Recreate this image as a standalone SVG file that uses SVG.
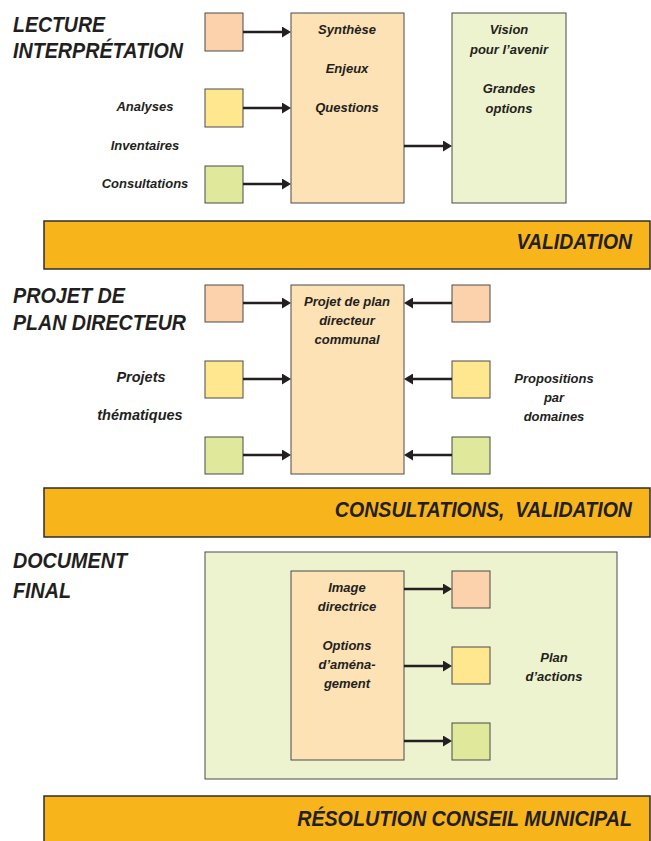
<svg xmlns="http://www.w3.org/2000/svg" width="651" height="841" viewBox="0 0 651 841">
<style>
text{font-family:"Liberation Sans",Arial,sans-serif;font-weight:bold;font-style:italic;fill:#231f20}
.h{font-size:22px}
.s{font-size:13px;text-anchor:middle}
.m{font-size:14.5px;text-anchor:middle}
.b{font-size:22px;text-anchor:end}
.box{stroke:#4a4a4a;stroke-width:1}
.peach{fill:#fcd2ac}.yel{fill:#fee78f}.grn{fill:#e0e89b}.cen{fill:#fde2b6}.lg{fill:#eef3cf}
.bar{fill:#f8b41b;stroke:#2e2e2e;stroke-width:1.5}
.arr{stroke:#231f20;stroke-width:2.5;fill:none;marker-end:url(#ah)}
</style>
<defs>
<marker id="ah" viewBox="0 0 9 11" markerWidth="9" markerHeight="11" markerUnits="userSpaceOnUse" refX="1" refY="5.5" orient="auto">
<path d="M0,0 L9,5.5 L0,11 z" fill="#231f20"/>
</marker>
</defs>

<!-- Section 1 -->
<g id="title1">
<text class="h" x="13" y="32" textLength="92" lengthAdjust="spacingAndGlyphs">LECTURE</text>
<text class="h" x="13" y="58" textLength="170" lengthAdjust="spacingAndGlyphs">INTERPRÉTATION</text>
</g>
<g id="labels1">
<text class="s" x="145" y="111">Analyses</text>
<text class="s" x="145" y="150">Inventaires</text>
<text class="s" x="145" y="188">Consultations</text>
</g>
<g id="s1-peach"><rect class="box peach" x="205" y="13" width="38" height="38"/></g>
<g id="s1-yellow"><rect class="box yel" x="205" y="89" width="38" height="38"/></g>
<g id="s1-green"><rect class="box grn" x="205" y="166" width="38" height="37"/></g>
<g id="synthese">
<rect class="box cen" x="291" y="13" width="113" height="190"/>
<text class="s" x="347" y="34">Synthèse</text>
<text class="s" x="347" y="73">Enjeux</text>
<text class="s" x="347" y="112">Questions</text>
</g>
<g id="vision">
<rect class="box lg" x="452" y="13" width="114" height="190"/>
<text class="s" x="509" y="34">Vision</text>
<text class="s" x="509" y="54">pour l’avenir</text>
<text class="s" x="509" y="93">Grandes</text>
<text class="s" x="509" y="113">options</text>
</g>
<g id="validation">
<rect class="bar" x="44" y="221" width="606" height="48"/>
<text class="b" transform="translate(632,249) scale(0.88,1)" x="0" y="0">VALIDATION</text>
</g>

<!-- Section 2 -->
<g id="title2">
<text class="h" x="13" y="303" textLength="112" lengthAdjust="spacingAndGlyphs">PROJET DE</text>
<text class="h" x="13" y="330" textLength="173" lengthAdjust="spacingAndGlyphs">PLAN DIRECTEUR</text>
</g>
<g id="labels2">
<text class="m" x="141" y="382">Projets</text>
<text class="m" x="140" y="420">thématiques</text>
</g>
<g id="s2-peach-l"><rect class="box peach" x="205" y="285" width="38" height="37"/></g>
<g id="s2-yellow-l"><rect class="box yel" x="205" y="361" width="38" height="37"/></g>
<g id="s2-green-l"><rect class="box grn" x="205" y="437" width="38" height="37"/></g>
<g id="projet">
<rect class="box cen" x="291" y="285" width="113" height="189"/>
<text class="s" x="347" y="306">Projet de plan</text>
<text class="s" x="347" y="325">directeur</text>
<text class="s" x="347" y="344">communal</text>
</g>
<g id="s2-peach-r"><rect class="box peach" x="452" y="285" width="38" height="37"/></g>
<g id="s2-yellow-r"><rect class="box yel" x="452" y="361" width="38" height="37"/></g>
<g id="s2-green-r"><rect class="box grn" x="452" y="437" width="38" height="37"/></g>
<g id="labels2r">
<text class="s" x="554" y="383">Propositions</text>
<text class="s" x="554" y="402">par</text>
<text class="s" x="554" y="421">domaines</text>
</g>
<g id="consultations">
<rect class="bar" x="44" y="488" width="606" height="49"/>
<text class="b" transform="translate(632,517) scale(0.89,1)" x="0" y="0" xml:space="preserve">CONSULTATIONS,  VALIDATION</text>
</g>

<!-- Section 3 -->
<g id="title3">
<text class="h" x="13" y="568" textLength="114" lengthAdjust="spacingAndGlyphs">DOCUMENT</text>
<text class="h" x="13" y="598" textLength="58" lengthAdjust="spacingAndGlyphs">FINAL</text>
</g>
<g id="document">
<rect class="box lg" x="205" y="552" width="412" height="227"/>
</g>
<g id="image">
<rect class="box cen" x="291" y="571" width="113" height="189"/>
<text class="s" x="347" y="592">Image</text>
<text class="s" x="347" y="611">directrice</text>
<text class="s" x="347" y="650">Options</text>
<text class="s" x="347" y="669">d’aména-</text>
<text class="s" x="347" y="688">gement</text>
</g>
<g id="s3-peach"><rect class="box peach" x="452" y="571" width="38" height="37"/></g>
<g id="s3-yellow"><rect class="box yel" x="452" y="647" width="38" height="37"/></g>
<g id="s3-green"><rect class="box grn" x="452" y="723" width="38" height="37"/></g>
<g id="plan">
<text class="s" x="554" y="662">Plan</text>
<text class="s" x="554" y="681">d’actions</text>
</g>
<g id="resolution">
<rect class="bar" x="44" y="796" width="606" height="50"/>
<text class="b" transform="translate(632,826) scale(0.895,1)" x="0" y="0">RÉSOLUTION CONSEIL MUNICIPAL</text>
</g>

<g id="connectors">
<line class="arr" x1="243" y1="32" x2="283" y2="32"/>
<line class="arr" x1="243" y1="108" x2="283" y2="108"/>
<line class="arr" x1="243" y1="184" x2="283" y2="184"/>
<line class="arr" x1="404" y1="146" x2="444" y2="146"/>
<line class="arr" x1="243" y1="303" x2="283" y2="303"/>
<line class="arr" x1="243" y1="379" x2="283" y2="379"/>
<line class="arr" x1="243" y1="455" x2="283" y2="455"/>
<line class="arr" x1="452" y1="303" x2="412" y2="303"/>
<line class="arr" x1="452" y1="379" x2="412" y2="379"/>
<line class="arr" x1="452" y1="455" x2="412" y2="455"/>
<line class="arr" x1="404" y1="589" x2="444" y2="589"/>
<line class="arr" x1="404" y1="666" x2="444" y2="666"/>
<line class="arr" x1="404" y1="741" x2="444" y2="741"/>
</g>
</svg>
